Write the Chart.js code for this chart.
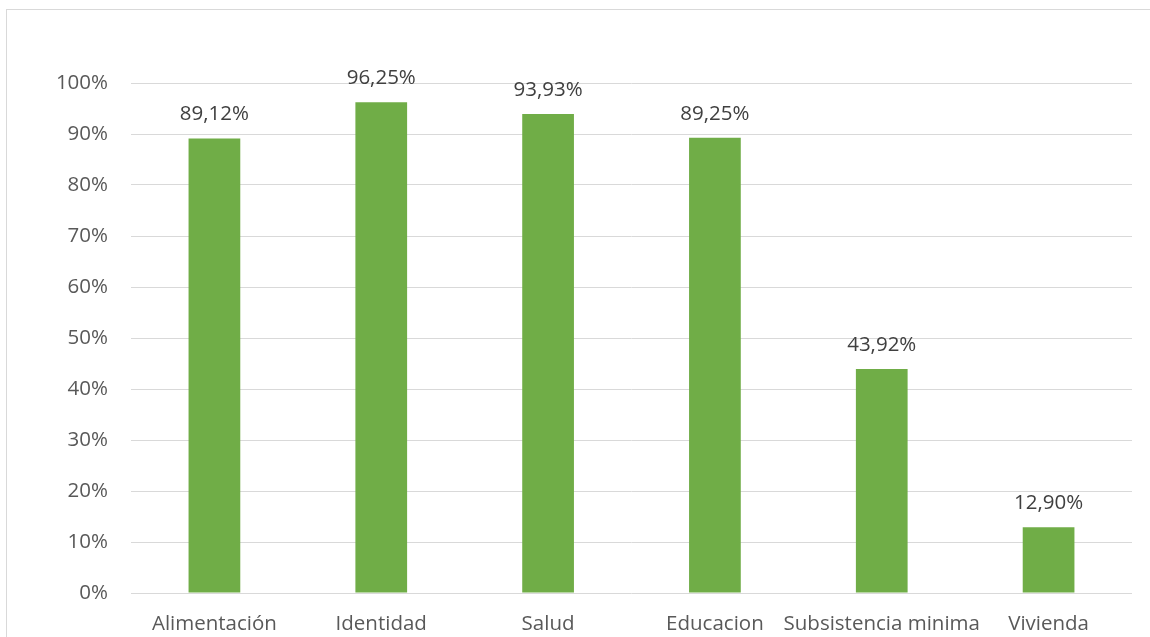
<!DOCTYPE html>
<html>
<head>
<meta charset="utf-8">
<script src="https://cdn.jsdelivr.net/npm/chart.js@4/dist/chart.umd.min.js"></script>
<style>
  body { margin: 0; background: #fff; }
  .frame { position: absolute; left: 6px; top: 9px; width: 1160px; height: 700px; border: 1px solid #d9d9d9; }
  .canvas-container { position: absolute; left: 0; top: 0; width: 1150px; height: 637px; }
</style>
</head>
<body>
<div class="frame"></div>
<div class="canvas-container"><canvas id="myChart" width="1150" height="637"></canvas></div>
<script>
const categories = ['Alimentación', 'Identidad', 'Salud', 'Educacion', 'Subsistencia minima', 'Vivienda'];
const values = [89.12, 96.25, 93.93, 89.25, 43.92, 12.90];
const valueLabels = ['89,12%', '96,25%', '93,93%', '89,25%', '43,92%', '12,90%'];

const fontFamily = '"Open Sans", "Noto Sans", sans-serif';

// value labels above each bar
const barLabels = {
    id: 'barLabels',
    afterDatasetsDraw(chart) {
        const ctx = chart.ctx;
        const meta = chart.getDatasetMeta(0);
        ctx.save();
        ctx.font = '20.5px ' + fontFamily;
        ctx.fillStyle = '#404040';
        ctx.textAlign = 'center';
        ctx.textBaseline = 'middle';
        meta.data.forEach((bar, i) => {
            ctx.fillText(valueLabels[i], bar.x, bar.y - 24);
        });
        ctx.restore();
    }
};

const ctx = document.querySelector('#myChart');

myChart = new Chart(ctx, {
    type: 'bar',
    data: {
        labels: categories,
        datasets: [{
            data: values,
            backgroundColor: '#70ad47',
            borderWidth: 0,
            barPercentage: 0.31,
            categoryPercentage: 1
        }]
    },
    options: {
        responsive: false,
        animation: false,
        layout: {
            padding: { left: 0, top: 83, right: 18, bottom: 0 }
        },
        plugins: {
            legend: { display: false },
            tooltip: { enabled: false }
        },
        scales: {
            x: {
                grid: { display: false, drawTicks: false },
                border: { display: false },
                ticks: {
                    color: '#595959',
                    font: { family: fontFamily, size: 20.5 },
                    padding: 19,
                    autoSkip: false,
                    maxRotation: 0
                },
                afterFit: s => { s.height = 44; }
            },
            y: {
                min: 0,
                max: 100,
                grid: { color: '#d9d9d9', lineWidth: 1, drawTicks: false },
                border: { display: false },
                ticks: {
                    stepSize: 10,
                    color: '#595959',
                    font: { family: fontFamily, size: 20.5 },
                    padding: 23,
                    callback: v => v + '%'
                },
                afterFit: s => { s.width = 131; }
            }
        }
    },
    plugins: [barLabels]
});
</script>
</body>
</html>
